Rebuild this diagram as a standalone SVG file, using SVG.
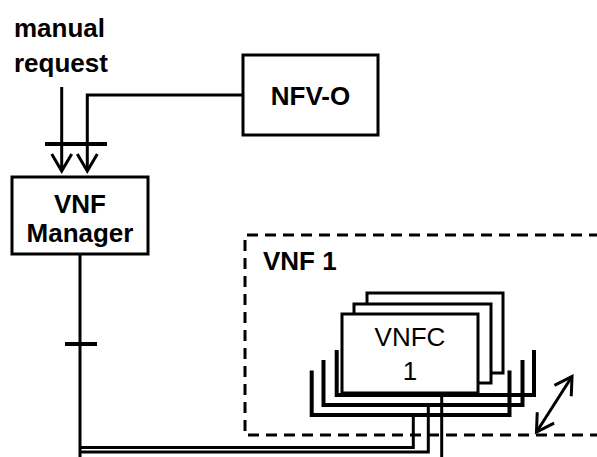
<svg xmlns="http://www.w3.org/2000/svg" width="597" height="457" viewBox="0 0 597 457">
  <style>
    .box { fill: #fff; stroke: #000; stroke-width: 3; }
    .ln { fill: none; stroke: #000; stroke-width: 3; }
    .br { fill: none; stroke: #000; stroke-width: 4; stroke-linejoin: miter; }
    .lbl { font-family: "Liberation Sans", Arial, sans-serif; font-size: 26px; font-weight: bold; fill: #000; }
    .reg { font-family: "Liberation Sans", Arial, sans-serif; font-size: 26px; fill: #000; }
    .dash { fill: none; stroke: #000; stroke-width: 3; stroke-dasharray: 11 7; }
  </style>
  <defs>
    <marker id="open" markerUnits="userSpaceOnUse" markerWidth="24" markerHeight="24" viewBox="-20 -12 22 24" refX="0" refY="0" orient="auto-start-reverse" overflow="visible">
      <path d="M -17 -10 L 0 0 L -17 10" fill="none" stroke="#000" stroke-width="3"/>
    </marker>
  </defs>
  <rect width="597" height="457" fill="#fff"/>

  <g id="manual-request">
    <text class="lbl" x="14" y="37">manual</text>
    <text class="lbl" x="14" y="72">request</text>
  </g>

  <g id="nfvo">
    <rect class="box" x="243" y="55" width="135" height="80"/>
    <text class="lbl" x="310.5" y="105" text-anchor="middle">NFV-O</text>
  </g>

  <g id="vnf-manager">
    <rect class="box" x="12" y="177" width="136" height="77"/>
    <text class="lbl" x="80" y="213" text-anchor="middle">VNF</text>
    <text class="lbl" x="80" y="242" text-anchor="middle">Manager</text>
  </g>

  <g id="vnf1">
    <path class="dash" d="M 600 235 L 245 235 L 245 435 L 600 435"/>
    <text class="lbl" x="263" y="270">VNF 1</text>
  </g>

  <g id="vnfc1">
    <path class="br" d="M 336.7 350 L 336.7 395 L 534 395 L 534 350"/>
    <path class="br" d="M 323.5 360 L 323.5 405 L 522.5 405 L 522.5 360"/>
    <path class="br" d="M 311.7 370.5 L 311.7 415 L 509.5 415 L 509.5 370.5"/>
    <rect class="box" x="367" y="293" width="136" height="80"/>
    <rect class="box" x="354" y="304" width="137" height="79"/>
    <rect class="box" x="342" y="314" width="136" height="79"/>
    <text class="reg" x="410" y="346" text-anchor="middle">VNFC</text>
    <text class="reg" x="410" y="380" text-anchor="middle">1</text>
  </g>

  <g id="connectors">
    <line class="ln" x1="61.7" y1="87" x2="61.7" y2="171" marker-end="url(#open)"/>
    <polyline class="ln" points="243,95 87.3,95 87.3,171" marker-end="url(#open)"/>
    <line x1="45" y1="144" x2="107" y2="144" stroke="#000" stroke-width="4"/>
    <line class="ln" x1="80" y1="254" x2="80" y2="457"/>
    <line x1="65" y1="344" x2="97" y2="344" stroke="#000" stroke-width="4"/>
    <polyline class="ln" points="413.3,415 413.3,447.5 80,447.5" stroke-width="2.6"/>
    <polyline class="ln" points="428.3,405 428.3,452 80,452" stroke-width="2.6"/>
    <line class="ln" x1="441.7" y1="395" x2="441.7" y2="457"/>
    <line class="ln" x1="536.5" y1="432" x2="572" y2="376.5" marker-start="url(#open)" marker-end="url(#open)"/>
  </g>
</svg>
